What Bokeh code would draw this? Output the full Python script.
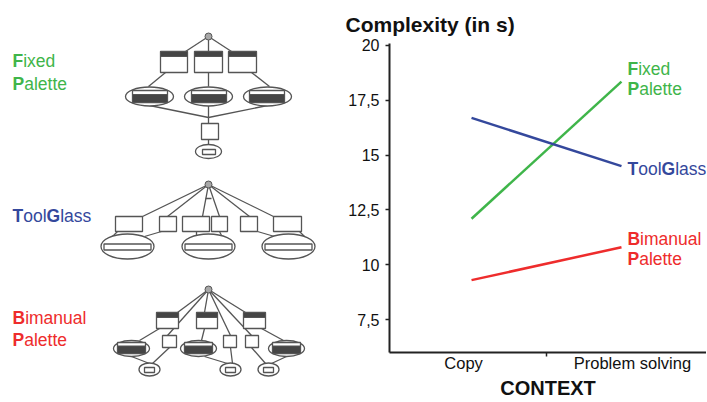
from bokeh.plotting import figure
from bokeh.models import Range1d, FixedTicker
from bokeh.layouts import row, column
from bokeh.core.properties import value
from bokeh.embed import file_html
from bokeh.resources import INLINE

# ---------------- data ----------------
contexts = ["Copy", "Problem solving"]
ctx_x = [0.5, 1.5]
ctx_label_x = [0.447, 1.573]
fixed_palette = [12.1, 18.35]
toolglass = [16.7, 14.5]
bimanual = [9.3, 10.8]
y_ticks = [7.5, 10, 12.5, 15, 17.5, 20]
y_tick_labels = ["7,5", "10", "12,5", "15", "17,5", "20"]

GREEN = "#3fb54a"
BLUE = "#34489c"
RED = "#ee2c2c"
GRAY = "#555555"
DARK = "#454545"
FONT = "Liberation Sans"
FS = 17.5

# Arial/Liberation advance widths (em)
REG = {"o": .556, "l": .222, "a": .556, "s": .5, "i": .222, "x": .5, "e": .556,
       "d": .556, "m": .833, "n": .556, "u": .556, "t": .278}
BLD = {"F": .611, "P": .667, "T": .611, "G": .778, "B": .722}


def rich(p, x, y, parts, color, x_off=0, y_off=0, size=FS):
    off = x_off
    for txt, bold in parts:
        p.text(x=[x], y=[y], text=[txt], x_offset=off, y_offset=y_off,
               text_font=value(FONT), text_font_size=f"{size}px",
               text_font_style="bold" if bold else "normal",
               text_color=color, text_baseline="alphabetic", text_align="left")
        tbl = BLD if bold else REG
        off += sum(tbl[c] for c in txt) * size


OFF = 1
H = 401
WL = 338

# ---------------- left: interaction diagrams ----------------
left = figure(width=WL, height=H, x_range=Range1d(OFF, OFF + WL), y_range=Range1d(OFF + H, OFF),
              output_backend="svg", toolbar_location=None, min_border=0)
left.axis.visible = False
left.grid.visible = False
left.outline_line_color = None

seg = dict(
    x0=[209, 209, 209, 166, 209, 252, 150, 209, 268, 209, 209,
        209, 209, 209, 209, 209, 209, 118, 162, 197, 220, 258, 300, 206,
        209, 209, 209, 209, 209, 209, 160, 205, 262, 132, 170, 205, 231, 252, 287],
    y0=[37, 37, 37, 73, 73, 73, 106, 106, 106, 118, 140,
        185, 185, 185, 185, 185, 185, 232, 232, 232, 232, 232, 232, 199,
        290, 290, 290, 290, 290, 290, 329, 329, 329, 357, 348, 357, 348, 348, 357],
    x1=[186, 209, 232, 149, 209, 270, 209, 209, 209, 209, 209,
        143, 168, 203, 220, 250, 274, 113, 145, 197, 222, 275, 305, 212,
        178, 205, 246, 168, 231, 252, 140, 202, 284, 150, 153, 228, 233, 266, 272],
    y1=[52, 52, 52, 87, 87, 87, 118, 118, 118, 124, 145,
        217, 217, 217, 217, 217, 217, 237, 237, 236, 236, 237, 237, 199,
        313, 313, 313, 336, 336, 336, 341, 341, 341, 364, 364, 364, 364, 364, 364],
)
left.segment(**seg, line_color=GRAY, line_width=1.3)

left.circle(x=[209, 209, 209], y=[37, 185, 290], radius=3.5,
            fill_color="#a8a8a8", line_color=GRAY, line_width=1)

ell_x = [150, 209, 268, 209, 128, 209, 289, 132, 199, 287, 150, 231, 269]
ell_y = [97, 97, 97, 152, 247, 247, 247, 349, 349, 349, 370, 370, 370]
ell_w = [48, 48, 48, 26, 53, 53, 53, 36, 36, 36, 21, 21, 21]
ell_h = [19, 19, 19, 14, 25, 25, 25, 16, 16, 16, 13, 13, 13]
left.ellipse(x=ell_x, y=ell_y, width=ell_w, height=ell_h,
             fill_color="white", line_color=GRAY, line_width=1.3)

bx_l = [161, 195, 229, 133, 192, 250, 202, 203,
        116, 160, 183, 212, 241, 274, 104.5, 185.5, 265.5,
        157, 197, 244, 163, 224, 246, 118, 185, 273, 145, 226, 264]
bx_r = [188, 223, 257, 168, 227, 285, 219, 216,
        143, 177, 210, 228, 258, 302, 151.5, 232.5, 312.5,
        179, 218, 266, 177, 237, 259, 146, 213, 301, 155, 236, 274]
bx_t = [52, 52, 52, 91, 91, 91, 124, 150,
        217, 217, 217, 217, 217, 217, 244.5, 244.5, 244.5,
        313, 313, 313, 336, 336, 336, 343, 343, 343, 368, 368, 368]
bx_b = [73, 73, 73, 103, 103, 103, 140, 155,
        232, 232, 232, 232, 232, 232, 250.5, 250.5, 250.5,
        329, 329, 329, 348, 348, 348, 354, 354, 354, 373, 373, 373]
left.quad(left=bx_l, right=bx_r, top=bx_t, bottom=bx_b,
          fill_color="white", line_color=GRAY, line_width=1.3)

dk_l = [161, 195, 229, 133, 192, 250, 157, 197, 244, 118, 185, 273]
dk_r = [188, 223, 257, 168, 227, 285, 179, 218, 266, 146, 213, 301]
dk_t = [52, 52, 52, 95, 95, 95, 313, 313, 313, 346.5, 346.5, 346.5]
dk_b = [57, 57, 57, 103, 103, 103, 318, 318, 318, 354, 354, 354]
left.quad(left=dk_l, right=dk_r, top=dk_t, bottom=dk_b,
          fill_color=DARK, line_color=GRAY, line_width=1)

rich(left, 13, 61, [("F", True), ("ixed", False)], GREEN)
rich(left, 13, 84, [("P", True), ("alette", False)], GREEN)
rich(left, 13, 216, [("T", True), ("ool", False), ("G", True), ("lass", False)], BLUE)
rich(left, 13, 318, [("B", True), ("imanual", False)], RED)
rich(left, 13, 340, [("P", True), ("alette", False)], RED)

# ---------------- right: chart ----------------
p = figure(width=368, height=H, x_range=Range1d(-0.047, 2.067), y_range=Range1d(6.0, 20.09),
           output_backend="svg", toolbar_location=None,
           min_border_left=390 - OFF - WL, min_border_right=0, min_border_top=44 - OFF,
           min_border_bottom=48)
p.grid.visible = False
p.outline_line_color = None

p.title.text = "Complexity (in s)"
p.title.align = "left"
p.title.vertical_align = "top"
p.title.offset = -44
p.title.standoff = 12
p.title.text_font = FONT
p.title.text_font_size = "21px"
p.title.text_font_style = "bold"
p.title.text_color = "#111111"

p.line(ctx_x, fixed_palette, line_color=GREEN, line_width=2.5)
p.line(ctx_x, toolglass, line_color=BLUE, line_width=2.5)
p.line(ctx_x, bimanual, line_color=RED, line_width=2.5)

rich(p, ctx_x[1], fixed_palette[1], [("F", True), ("ixed", False)], GREEN, x_off=6, y_off=-13)
rich(p, ctx_x[1], fixed_palette[1], [("P", True), ("alette", False)], GREEN, x_off=6, y_off=7)
rich(p, ctx_x[1], toolglass[1], [("T", True), ("ool", False), ("G", True), ("lass", False)], BLUE, x_off=6, y_off=3)
rich(p, ctx_x[1], bimanual[1], [("B", True), ("imanual", False)], RED, x_off=6, y_off=-8)
rich(p, ctx_x[1], bimanual[1], [("P", True), ("alette", False)], RED, x_off=6, y_off=12)

ya = p.yaxis[0]
ya.ticker = FixedTicker(ticks=y_ticks)
ya.major_label_overrides = {t: s for t, s in zip(y_ticks, y_tick_labels)}
ya.minor_tick_line_color = None
ya.major_tick_in = 0
ya.major_tick_out = 4
ya.major_tick_line_width = 1.5
ya.major_tick_line_color = "#222222"
ya.axis_line_width = 2
ya.axis_line_color = "#222222"
ya.major_label_standoff = 6
ya.major_label_text_font = FONT
ya.major_label_text_font_size = "16px"
ya.major_label_text_color = "#111111"

xa = p.xaxis[0]
xa.ticker = FixedTicker(ticks=ctx_label_x, minor_ticks=[1.0])
xa.major_label_overrides = {t: s for t, s in zip(ctx_label_x, contexts)}
xa.major_tick_in = 0
xa.major_tick_out = 0
xa.minor_tick_in = 0
xa.minor_tick_out = 4
xa.minor_tick_line_width = 1.5
xa.minor_tick_line_color = "#222222"
xa.axis_line_width = 2
xa.axis_line_color = "#222222"
xa.major_label_standoff = -3
xa.major_label_text_font = FONT
xa.major_label_text_font_size = "16.5px"
xa.major_label_text_color = "#111111"
xa.axis_label = "CONTEXT"
xa.axis_label_text_font = FONT
xa.axis_label_text_font_size = "20px"
xa.axis_label_text_font_style = "bold"
xa.axis_label_text_color = "#111111"
xa.axis_label_standoff = 2

layout = row(column(left), column(p))
open("out.html", "w").write(file_html(layout, INLINE))
